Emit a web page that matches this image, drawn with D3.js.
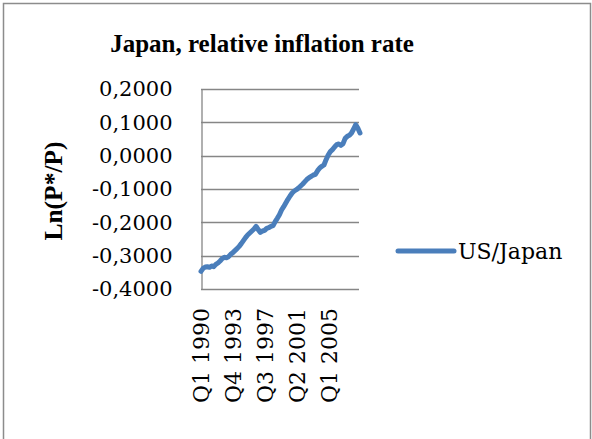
<!DOCTYPE html>
<html>
<head>
<meta charset="utf-8">
<script src="https://cdn.jsdelivr.net/npm/d3@7"></script>
<style>
  html, body { margin: 0; padding: 0; background: #fff; }
  svg { display: block; }
  text { font-family: "DejaVu Serif", "Liberation Serif", serif; fill: #000; }
  .bold { font-family: "Liberation Serif", "DejaVu Serif", serif; font-weight: bold; }
</style>
</head>
<body>
<svg id="chart" width="592" height="439"></svg>
<script>
// Quarterly periods, Q1 1990 .. Q4 2008
const years = d3.range(1990, 2009);
const quarters = years.flatMap(y => [1, 2, 3, 4].map(q => `Q${q} ${y}`));

// Ln(P*/P), US relative to Japan
const usJapan = [
  -0.347, -0.338, -0.334, -0.333, -0.335, -0.331, -0.333, -0.326,
  -0.322, -0.316, -0.309, -0.305, -0.306, -0.303, -0.296, -0.291,
  -0.285, -0.279, -0.272, -0.264, -0.255, -0.246, -0.238, -0.232,
  -0.226, -0.220, -0.212, -0.222, -0.230, -0.226, -0.224, -0.218,
  -0.216, -0.212, -0.210, -0.198, -0.188, -0.177, -0.163, -0.153,
  -0.142, -0.131, -0.121, -0.112, -0.106, -0.102, -0.097, -0.091,
  -0.085, -0.078, -0.071, -0.066, -0.062, -0.058, -0.056, -0.045,
  -0.037, -0.032, -0.028, -0.012,  0.002,  0.012,  0.018,  0.026,
   0.033,  0.035,  0.031,  0.036,  0.052,  0.058,  0.061,  0.068,
   0.080,  0.093,  0.082,  0.068
];

const yTicks = [0.2, 0.1, 0.0, -0.1, -0.2, -0.3, -0.4];
const xTickLabels = ["Q1 1990", "Q4 1993", "Q3 1997", "Q2 2001", "Q1 2005"];

const title = "Japan, relative inflation rate";
const yTitle = "Ln(P*/P)";
const seriesName = "US/Japan";

const lineColor = "#4a7ebb";
const gridColor = "#868686";

const svg = d3.select("#chart");

// chart frame
svg.append("rect")
  .attr("x", 3.5).attr("y", 3.5)
  .attr("width", 587).attr("height", 460)
  .attr("fill", "#fff")
  .attr("stroke", "#8c8c8c").attr("stroke-width", 1.5);

const plot = { left: 201, right: 360, top: 89, bottom: 289 };

const x = d3.scalePoint()
  .domain(quarters)
  .range([plot.left, plot.right]);

const y = d3.scaleLinear()
  .domain([-0.4, 0.2])
  .range([plot.bottom, plot.top]);

const fmt = v => d3.format(".4f")(v).replace("−", "-").replace(".", ",");

// horizontal gridlines
svg.append("g")
  .selectAll("line")
  .data(yTicks)
  .join("line")
  .attr("x1", plot.left).attr("x2", plot.right - 1)
  .attr("y1", d => Math.round(y(d)) + 0.5)
  .attr("y2", d => Math.round(y(d)) + 0.5)
  .attr("stroke", gridColor).attr("stroke-width", 1.3);

// vertical value axis with labels
const yAxis = d3.axisLeft(y)
  .tickValues(yTicks)
  .tickSize(0)
  .tickPadding(29)
  .tickFormat(fmt);

const gy = svg.append("g")
  .attr("transform", `translate(${plot.left + 0.5},0)`)
  .call(yAxis);
gy.select(".domain").attr("stroke", gridColor).attr("stroke-width", 1.3);
gy.selectAll("text")
  .style("font-family", '"DejaVu Serif", serif')
  .style("font-size", "21px")
  .attr("fill", "#000");

// category axis labels, rotated
const xAxis = d3.axisBottom(x)
  .tickValues(xTickLabels)
  .tickSize(0)
  .tickPadding(0);

const gx = svg.append("g")
  .attr("transform", `translate(0,${plot.bottom})`)
  .call(xAxis);
gx.select(".domain").remove();
gx.selectAll("text")
  .style("font-family", '"DejaVu Serif", serif')
  .style("font-size", "22px")
  .attr("fill", "#000")
  .attr("transform", "rotate(-90)")
  .attr("text-anchor", "end")
  .attr("x", -19)
  .attr("y", 0)
  .attr("dy", "0.36em");

// series line
const line = d3.line()
  .x((d, i) => x(quarters[i]))
  .y(d => y(d));

svg.append("path")
  .datum(usJapan)
  .attr("d", line)
  .attr("fill", "none")
  .attr("stroke", lineColor)
  .attr("stroke-width", 5)
  .attr("stroke-linejoin", "round")
  .attr("stroke-linecap", "round");

// title
svg.append("text")
  .attr("class", "bold")
  .attr("x", 262).attr("y", 52)
  .attr("text-anchor", "middle")
  .style("font-size", "25px")
  .text(title);

// value axis title
svg.append("text")
  .attr("class", "bold")
  .attr("transform", `translate(62,${(plot.top + plot.bottom) / 2 + 2}) rotate(-90)`)
  .attr("text-anchor", "middle")
  .style("font-size", "25.5px")
  .text(yTitle);

// legend
const legend = svg.append("g").attr("transform", "translate(398,251)");
legend.append("line")
  .attr("x1", 0).attr("x2", 56)
  .attr("y1", 0).attr("y2", 0)
  .attr("stroke", lineColor).attr("stroke-width", 5)
  .attr("stroke-linecap", "round");
legend.append("text")
  .attr("x", 60).attr("y", 0).attr("dy", "0.36em")
  .style("font-size", "22px")
  .text(seriesName);
</script>
</body>
</html>
